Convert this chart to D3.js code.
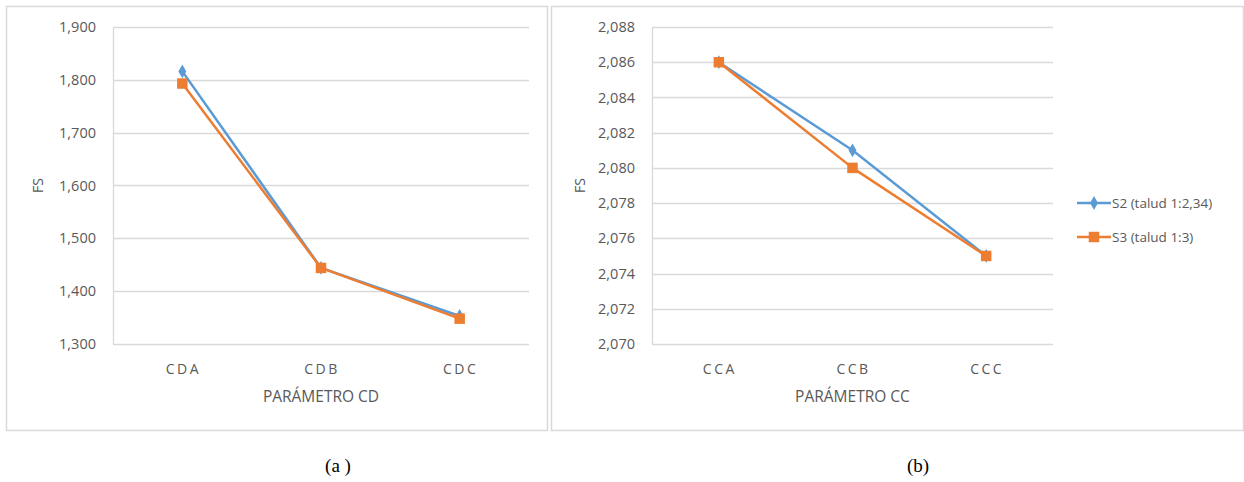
<!DOCTYPE html>
<html>
<head>
<meta charset="utf-8">
<script src="https://cdn.jsdelivr.net/npm/d3@7"></script>
<style>
  body { margin: 0; background: #fff; }
  text { font-family: "Open Sans", "Noto Sans", sans-serif; fill: #595959; }
</style>
</head>
<body>
<script>
// chart data
var seriesNames = ["S2 (talud 1:2,34)", "S3 (talud 1:3)"];
var catsCD = ["CDA", "CDB", "CDC"];
var s2CD = [1.816, 1.444, 1.353];
var s3CD = [1.793, 1.444, 1.348];
var ticksCD = [1.3, 1.4, 1.5, 1.6, 1.7, 1.8, 1.9];

var catsCC = ["CCA", "CCB", "CCC"];
var s2CC = [2.086, 2.081, 2.075];
var s3CC = [2.086, 2.080, 2.075];
var ticksCC = [2.070, 2.072, 2.074, 2.076, 2.078, 2.080, 2.082, 2.084, 2.086, 2.088];

var colors = ["#5b9bd5", "#ed7d31"];

var svg = d3.select("body").append("svg")
  .attr("width", 1244)
  .attr("height", 482);

var fmt = function(v) { return d3.format(".3f")(v).replace(".", ","); };

var drawPanel = function(p) {
  // frame
  svg.append("rect")
    .attr("x", p.box[0] + 0.5).attr("y", p.box[1] + 0.5)
    .attr("width", p.box[2] - p.box[0]).attr("height", p.box[3] - p.box[1])
    .attr("fill", "none").attr("stroke", "#d9d9d9").attr("stroke-width", 1.5);

  var x = d3.scaleBand().domain(p.cats).range([p.left, p.right]);
  var y = d3.scaleLinear().domain(p.domain).range([p.bottom, p.top]);

  var g = svg.append("g");

  // grid
  g.selectAll("line.grid").data(p.ticks).enter().append("line")
    .attr("x1", p.left).attr("x2", p.right)
    .attr("y1", function(d) { return Math.round(y(d)) + 0.5; })
    .attr("y2", function(d) { return Math.round(y(d)) + 0.5; })
    .attr("stroke", "#d9d9d9").attr("stroke-width", 1.3);

  g.append("line")
    .attr("x1", p.left + 0.5).attr("x2", p.left + 0.5)
    .attr("y1", p.top).attr("y2", p.bottom)
    .attr("stroke", "#d9d9d9").attr("stroke-width", 1.3);

  // y labels
  g.selectAll("text.yl").data(p.ticks).enter().append("text")
    .attr("x", p.left - 17)
    .attr("y", function(d) { return y(d); })
    .attr("dy", "0.35em")
    .attr("text-anchor", "end")
    .style("font-size", "14.5px")
    .text(fmt);

  // x labels
  g.selectAll("text.xl").data(p.cats).enter().append("text")
    .attr("x", function(d) { return x(d) + x.bandwidth() / 2 + 1; })
    .attr("y", p.bottom + 30)
    .attr("text-anchor", "middle")
    .style("font-size", "14px")
    .style("letter-spacing", "2.5px")
    .text(function(d) { return d; });

  g.append("text")
    .attr("x", (p.left + p.right) / 2)
    .attr("y", p.bottom + 58)
    .attr("text-anchor", "middle")
    .style("font-size", "15.5px")
    .text(p.title);

  g.append("text")
    .attr("transform", "translate(" + p.fsX + "," + ((p.top + p.bottom) / 2) + ") rotate(-90)")
    .attr("text-anchor", "middle")
    .style("font-size", "14px")
    .text("FS");

  var line = d3.line()
    .x(function(d, i) { return x(p.cats[i]) + x.bandwidth() / 2; })
    .y(function(d) { return y(d); });

  p.series.forEach(function(vals, k) {
    g.append("path")
      .attr("d", line(vals))
      .attr("fill", "none")
      .attr("stroke", colors[k])
      .attr("stroke-width", 2.5)
      .attr("stroke-linejoin", "round");

    var sym = k === 0 ? d3.symbolDiamond : d3.symbolSquare;
    var size = k === 0 ? 55 : 110;
    g.selectAll("path.m" + k).data(vals).enter().append("path")
      .attr("transform", function(d, i) {
        return "translate(" + (x(p.cats[i]) + x.bandwidth() / 2) + "," + y(d) + ")";
      })
      .attr("d", d3.symbol().type(sym).size(size))
      .attr("fill", colors[k]);
  });
};

drawPanel({
  box: [6, 6, 547, 430],
  left: 113, right: 529, top: 27, bottom: 344,
  cats: catsCD, domain: [1.3, 1.9], ticks: ticksCD,
  series: [s2CD, s3CD], title: "PARÁMETRO CD", fsX: 43
});

drawPanel({
  box: [551, 6, 1243, 430],
  left: 652, right: 1053, top: 27, bottom: 344,
  cats: catsCC, domain: [2.070, 2.088], ticks: ticksCC,
  series: [s2CC, s3CC], title: "PARÁMETRO CC", fsX: 585
});

// legend
var legend = svg.append("g").selectAll("g").data(seriesNames).enter().append("g")
  .attr("transform", function(d, i) { return "translate(1077," + (203 + i * 34) + ")"; });

legend.append("line")
  .attr("x1", 0).attr("x2", 34)
  .attr("stroke", function(d, i) { return colors[i]; })
  .attr("stroke-width", 2.5);

legend.append("path")
  .attr("transform", "translate(17,0)")
  .attr("d", function(d, i) {
    return d3.symbol().type(i === 0 ? d3.symbolDiamond : d3.symbolSquare).size(i === 0 ? 55 : 110)();
  })
  .attr("fill", function(d, i) { return colors[i]; });

legend.append("text")
  .attr("x", 35).attr("dy", "0.35em")
  .style("font-size", "13.5px")
  .text(function(d) { return d; });

// captions
svg.selectAll("text.cap").data(["(a )", "(b)"]).enter().append("text")
  .attr("x", function(d, i) { return i === 0 ? 338 : 918; })
  .attr("y", 472)
  .attr("text-anchor", "middle")
  .style("font-family", "'Liberation Serif', serif")
  .style("font-size", "19px")
  .style("fill", "#000")
  .text(function(d) { return d; });
</script>
</body>
</html>
